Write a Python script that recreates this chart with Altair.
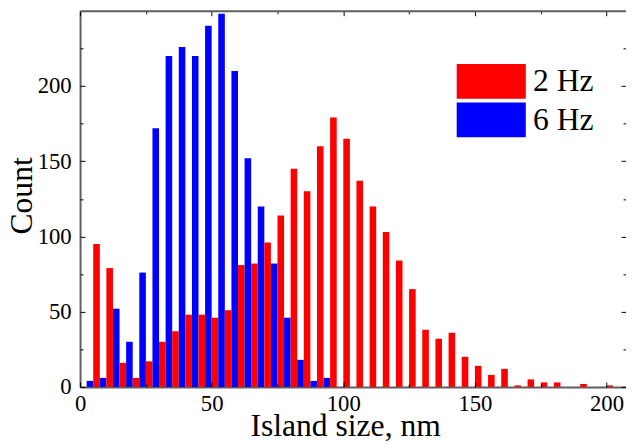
import altair as alt
import pandas as pd

# ---- data ----
bin_centers = list(range(5, 205, 5))
count_2hz = [95, 79, 16, 6, 17, 30, 37, 48, 48, 46,
             51, 81, 82, 96, 114, 145, 130, 160, 179, 165,
             137, 120, 103, 84, 65, 38, 32, 36, 20, 14,
             8, 12, 1, 5, 3, 3, 0, 2, 0, 1]
count_6hz = [4, 6, 52, 30, 76, 172, 220, 226, 220, 240,
             248, 210, 152, 120, 82, 46, 18, 4, 6, 0,
             0, 0, 0, 0, 0, 0, 0, 0, 0, 0,
             0, 0, 0, 0, 0, 0, 0, 0, 0, 0]
series_names = ["2 Hz", "6 Hz"]
series_colors = ["#ff0000", "#0000ff"]
half_width = 2.5
x_major = [0, 50, 100, 150, 200]
x_all_ticks = list(range(0, 201, 25))
y_major = [0, 50, 100, 150, 200]
y_all_ticks = list(range(0, 226, 25))

rows = []
for b, r, bl in zip(bin_centers, count_2hz, count_6hz):
    if bl > 0:
        rows.append({"series": "6 Hz", "x0": b - half_width, "x1": b, "count": bl})
    if r > 0:
        rows.append({"series": "2 Hz", "x0": b, "x1": b + half_width, "count": r})
df = pd.DataFrame(rows)

W, H = 553, 381
FONT = "Liberation Serif"
FRAME = "#5f5f5f"
LABEL_SIZE = 23
xscale = alt.Scale(domain=[0, 207.4], nice=False, zero=False)
yscale = alt.Scale(domain=[0, 250], nice=False)
tick_len = {"condition": {"test": "datum.value % 50 === 0", "value": 5}, "value": 3}

bars = alt.Chart(df).mark_bar().encode(
    x=alt.X("x0:Q", scale=xscale, axis=alt.Axis(
        orient="bottom", values=x_major, ticks=False, tickSize=0, grid=False,
        labelFlush=False, labelOverlap=False,
        labelPadding=24, labelBaseline="alphabetic", labelFont=FONT,
        labelFontSize=LABEL_SIZE, labelFontWeight="normal",
        labelColor="black", domainColor=FRAME, domainWidth=2,
        title="Island size, nm", titleFont=FONT, titleFontSize=32, titleFontWeight="normal",
        titleColor="black", titleX=268.5, titleY=49, titleBaseline="alphabetic",
        titleAlign="center")),
    x2="x1:Q",
    y=alt.Y("count:Q", scale=yscale, axis=alt.Axis(
        orient="left", values=y_major, ticks=False, tickSize=0, grid=False,
        labelFlush=False, labelOverlap=False,
        labelPadding=9, labelFont=FONT, labelFontSize=LABEL_SIZE,
        labelFontWeight="normal", labelColor="black",
        domainColor=FRAME, domainWidth=2,
        title="Count", titleFont=FONT, titleFontSize=32, titleFontWeight="normal",
        titleColor="black", titleX=-49, titleY=187, titleAngle=270,
        titleBaseline="alphabetic", titleAlign="center")),
    y2=alt.datum(0),
    color=alt.Color("series:N",
                    scale=alt.Scale(domain=series_names, range=series_colors),
                    legend=alt.Legend(
                        orient="none", legendX=399, legendY=54, title=None,
                        symbolType="M-2,-1H2V1H-2Z", symbolSize=1225,
                        symbolStrokeWidth=0, symbolOpacity=1,
                        labelFont=FONT, labelFontSize=32, labelColor="black",
                        labelOffset=24.8, rowPadding=4, padding=0)),
)

# inward ticks on the bottom and left edges
ticks_a = alt.Chart(df).mark_point(opacity=0).encode(
    x=alt.X("x0:Q", scale=xscale, axis=alt.Axis(
        orient="top", offset=-H, values=x_all_ticks, domain=False, labels=False,
        ticks=True, tickSize=tick_len, tickColor="black", tickWidth=1,
        grid=False, title=None, zindex=2)),
    y=alt.Y("count:Q", scale=yscale, axis=alt.Axis(
        orient="right", offset=-W, values=y_all_ticks, domain=False, labels=False,
        ticks=True, tickSize=tick_len, tickColor="black", tickWidth=1,
        grid=False, title=None, zindex=2)),
)

# inward ticks on the top and right edges, plus top frame line
ticks_b = alt.Chart(df).mark_point(opacity=0).encode(
    x=alt.X("x0:Q", scale=xscale, axis=alt.Axis(
        orient="bottom", offset=-H, values=x_all_ticks, domain=True,
        domainColor=FRAME, domainWidth=2, labels=False,
        ticks=True, tickSize=tick_len, tickColor="black", tickWidth=1,
        grid=False, title=None, zindex=2)),
    y=alt.Y("count:Q", scale=yscale, axis=alt.Axis(
        orient="left", offset=-W, values=y_all_ticks, domain=False, labels=False,
        ticks=True, tickSize=tick_len, tickColor="black", tickWidth=1,
        grid=False, title=None, zindex=2)),
)

chart = alt.layer(bars, ticks_a, ticks_b).resolve_axis(
    x="independent", y="independent"
).properties(
    width=W, height=H,
    autosize=alt.AutoSizeParams(type="none"),
    padding={"left": 73, "top": 0, "right": 0, "bottom": 56},
    background="white",
).configure(
    font=FONT
).configure_axis(
    labelFont=FONT, titleFont=FONT
).configure_legend(
    labelFont=FONT
).configure_view(stroke=None)

chart.save("out.html", embed_options={"renderer": "svg", "actions": False})
